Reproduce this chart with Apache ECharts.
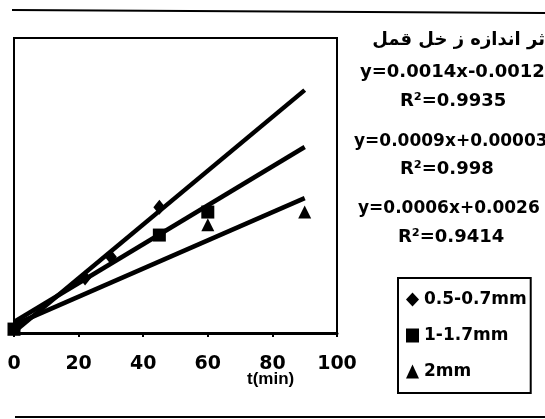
<!DOCTYPE html>
<html>
<head>
<meta charset="utf-8">
<script src="https://cdn.jsdelivr.net/npm/echarts@6/dist/echarts.min.js"></script>
<style>
html,body{margin:0;padding:0;background:#fff;}
#c{width:545px;height:419px;}
</style>
</head>
<body>
<div id="c"></div>
<script>
// ---- data ----
const seriesNames = ['0.5-0.7mm', '1-1.7mm', '2mm'];
const diamondX = [0, 22, 30, 45];
const diamondY = [0.002, 0.028, 0.0386, 0.064];
const squareX = [0, 45, 60];
const squareY = [0.002, 0.0498, 0.0615];
const triangleX = [0, 60, 90];
const triangleY = [0.002, 0.055, 0.0615];
// trendline end points (x = 0 and x = 90)
const fitX = [0, 90];
const fit1 = [0.0005, 0.1235];
const fit2 = [0.0056, 0.0946];
const fit3 = [0.0041, 0.0686];
const xTicks = [0, 20, 40, 60, 80, 100];
const titleText = 'ثر اندازه ز خل قمل';
const equations = ['y=0.0014x-0.0012', 'y=0.0009x+0.00003', 'y=0.0006x+0.0026'];
const r2Texts = ['R²=0.9935', 'R²=0.998', 'R²=0.9414'];

const pairs = (xs, ys) => xs.map((x, i) => [x, ys[i]]);
const FONT = '"DejaVu Sans", sans-serif';

const chart = echarts.init(document.getElementById('c'), null, {renderer: 'canvas'});

const symbols = ['diamond', 'rect', 'triangle'];
const pts = [pairs(diamondX, diamondY), pairs(squareX, squareY), pairs(triangleX, triangleY)];
const fits = [fit1, fit2, fit3];

const series = [];
fits.forEach((f, i) => {
  series.push({
    name: 'fit' + i,
    type: 'line',
    data: pairs(fitX, f),
    symbol: 'none',
    lineStyle: {color: '#000', width: 4.5},
    z: 2,
    silent: true
  });
});
pts.forEach((p, i) => {
  series.push({
    name: seriesNames[i],
    type: 'scatter',
    data: p,
    symbol: symbols[i],
    symbolSize: symbols[i] === 'diamond' ? [12, 15] : 13,
    itemStyle: {color: '#000', opacity: 1},
    z: 3
  });
});

const eq = (size) => ({fontFamily: FONT, fontWeight: 'bold', fontSize: size, fill: '#000'});
const graphic = [
  {type: 'line', shape: {x1: 12, y1: 10, x2: 545, y2: 13}, style: {stroke: '#000', lineWidth: 2}},
  {type: 'line', shape: {x1: 15, y1: 417, x2: 545, y2: 417}, style: {stroke: '#000', lineWidth: 2}},
  {type: 'text', right: 0, top: 31, style: {text: titleText, fontFamily: FONT, fontWeight: 'bold', fontSize: 18, fill: '#000'}},
  {type: 'text', left: 360, top: 63, style: Object.assign({text: equations[0]}, eq(18))},
  {type: 'text', left: 400, top: 92, style: Object.assign({text: r2Texts[0]}, eq(18))},
  {type: 'text', left: 354, top: 133, style: Object.assign({text: equations[1]}, eq(17))},
  {type: 'text', left: 400, top: 160, style: Object.assign({text: r2Texts[1]}, eq(18))},
  {type: 'text', left: 358, top: 200, style: Object.assign({text: equations[2]}, eq(17))},
  {type: 'text', left: 398, top: 228, style: Object.assign({text: r2Texts[2]}, eq(18))}
];

chart.setOption({
  animation: false,
  backgroundColor: '#fff',
  grid: {left: 14, top: 38, right: 208, bottom: 86, show: true, borderColor: '#000', borderWidth: 2, backgroundColor: 'transparent'},
  xAxis: {
    type: 'value',
    min: xTicks[0],
    max: xTicks[xTicks.length - 1],
    interval: 20,
    name: 't(min)',
    nameLocation: 'end',
    nameGap: -90,
    nameMoveOverlap: false,
    nameTextStyle: {fontFamily: '"Liberation Sans", Arial, sans-serif', fontWeight: 'bold', fontSize: 17, color: '#000', verticalAlign: 'top', padding: [38, 0, 0, 0]},
    axisLine: {show: true, lineStyle: {color: '#000', width: 3}},
    axisTick: {show: true, length: 4, lineStyle: {color: '#000', width: 2}},
    axisLabel: {fontFamily: FONT, fontWeight: 'bold', fontSize: 19, color: '#000', margin: 22},
    splitLine: {show: false}
  },
  yAxis: {
    type: 'value',
    min: 0,
    max: 0.15,
    axisLine: {show: true, lineStyle: {color: '#000', width: 2}},
    axisTick: {show: false},
    axisLabel: {show: false},
    splitLine: {show: false}
  },
  legend: {
    data: seriesNames,
    orient: 'vertical',
    left: 398,
    top: 278,
    padding: [13, 4, 13, 8],
    itemGap: 19,
    itemWidth: 13,
    itemHeight: 14,
    borderColor: '#000',
    borderWidth: 2,
    backgroundColor: '#fff',
    textStyle: {fontFamily: FONT, fontWeight: 'bold', fontSize: 17, color: '#000'}
  },
  graphic: graphic,
  series: series
});
</script>
</body>
</html>
